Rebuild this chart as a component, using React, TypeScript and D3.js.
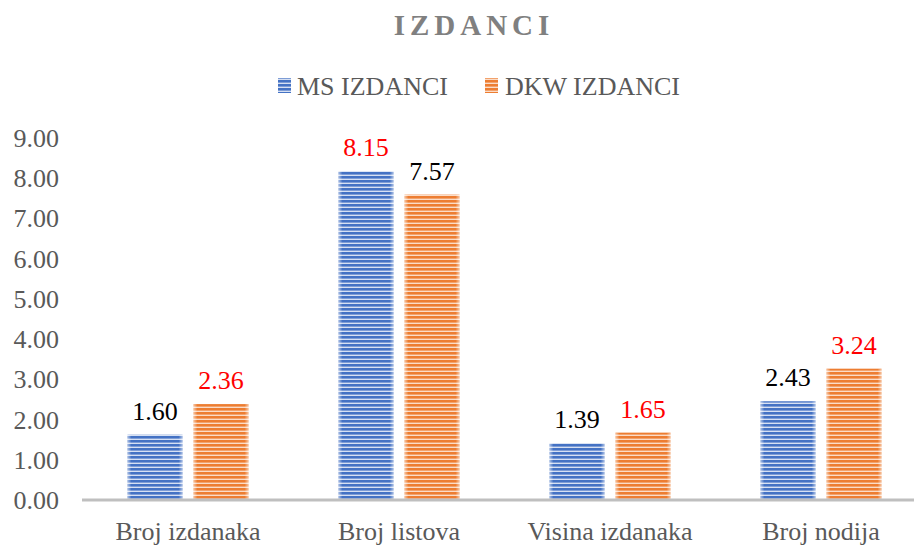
import * as d3 from 'd3'

const categories = ['Broj izdanaka', 'Broj listova', 'Visina izdanaka', 'Broj nodija']
const seriesNames = ['MS IZDANCI', 'DKW IZDANCI']
const msValues = [1.6, 8.15, 1.39, 2.43]
const dkwValues = [2.36, 7.57, 1.65, 3.24]
const yTicks = [0, 1, 2, 3, 4, 5, 6, 7, 8, 9]

const W = 914
const H = 546
const textGray = '#595959'

const colors = [
  { dark: '#4472C4', light: '#D6E0F3', id: 'stripeBlue' },
  { dark: '#ED7D31', light: '#FBDCC7', id: 'stripeOrange' },
]

export default function App() {
  const x = d3.scaleBand<string>().domain(categories).range([82.5, 926.5])
  const y = d3.scaleLinear().domain([0, 9]).range([499, 137])
  const barW = 55
  const gap = 11

  const series = [msValues, dkwValues]

  return (
    <div style={{ position: 'absolute', left: 0, top: 0, width: W, height: H, fontFamily: '"Liberation Serif", serif' }}>
      <style>{'svg text { font-family: "Liberation Serif", serif !important; }'}</style>
      <svg width={W} height={H} fontFamily='Liberation Serif'>
        <defs>
          {colors.map(c => (
            <pattern key={c.id} id={c.id} patternUnits='userSpaceOnUse' width={8} height={4}>
              <rect width={8} height={4} fill={c.light} />
              <rect width={8} height={2.6} fill={c.dark} />
            </pattern>
          ))}
          <linearGradient id='softEdge' x1='0' x2='1' y1='0' y2='0'>
            <stop offset='0%' stopColor='#fff' stopOpacity={0.55} />
            <stop offset='7%' stopColor='#fff' stopOpacity={0} />
            <stop offset='93%' stopColor='#fff' stopOpacity={0} />
            <stop offset='100%' stopColor='#fff' stopOpacity={0.55} />
          </linearGradient>
        </defs>

        {/* title */}
        <text x={474} y={35} textAnchor='middle' fontSize={29} fontWeight='bold'
          fill='#808080' letterSpacing={5}>IZDANCI</text>

        {/* legend */}
        <g fontSize={26} fill={textGray}>
          <rect x={278} y={78} width={13} height={15} fill='url(#stripeBlue)' />
          <text x={297} y={95}>{seriesNames[0]}</text>
          <rect x={485} y={78} width={13} height={15} fill='url(#stripeOrange)' />
          <text x={505} y={95}>{seriesNames[1]}</text>
        </g>

        {/* y ticks */}
        <g fontSize={26} fill={textGray}>
          {yTicks.map(t => (
            <text key={t} x={59} y={y(t) + 10} textAnchor='end'>{t.toFixed(2)}</text>
          ))}
        </g>

        {/* bars */}
        {categories.map((cat, i) => {
          const cx = (x(cat) as number) + x.bandwidth() / 2
          return (
            <g key={cat}>
              {series.map((vals, s) => {
                const v = vals[i]
                const other = series[1 - s][i]
                const bx = s === 0 ? cx - gap / 2 - barW : cx + gap / 2
                return (
                  <g key={s}>
                    <rect x={bx} y={y(v)} width={barW} height={y(0) - y(v)} fill={`url(#${colors[s].id})`} />
                    <rect x={bx} y={y(v)} width={barW} height={y(0) - y(v)} fill='url(#softEdge)' />
                    <text x={bx + barW / 2} y={y(v) - 15} textAnchor='middle' fontSize={26}
                      fill={v > other ? '#FF0000' : '#000000'}>{v.toFixed(2)}</text>
                  </g>
                )
              })}
              <text x={cx} y={540} textAnchor='middle' fontSize={26} fill={textGray}>{cat}</text>
            </g>
          )
        })}

        {/* axis line */}
        <line x1={82} x2={W} y1={y(0) + 1} y2={y(0) + 1} stroke='#BFBFBF' strokeWidth={3} />
      </svg>
    </div>
  )
}
